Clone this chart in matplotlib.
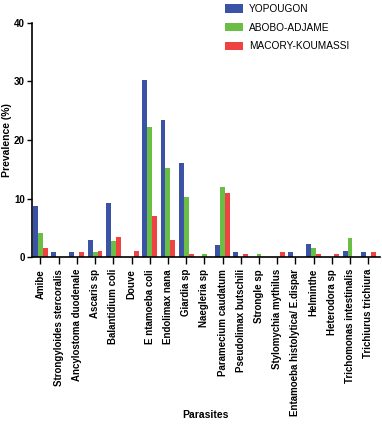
import matplotlib.pyplot as plt
import numpy as np

plt.rcParams['font.family'] = ['Liberation Sans', 'DejaVu Sans']

parasites = ['Amibe', 'Strongyloides stercoralis', 'Ancylostoma duodenale', 'Ascaris sp',
             'Balantidium coli', 'Douve', 'E ntamoeba coli', 'Endolimax nana', 'Giardia sp',
             'Naegleria sp', 'Paramecium caudatum', 'Pseudolimax butschili', 'Strongle sp',
             'Stylomychia mythilus', 'Entamoeba histolytica/ E.dispar', 'Helminthe',
             'Heterodora sp', 'Trichomonas intestinalis', 'Trichiurus trichiura']

yopougon = [8.7, 0.8, 0.8, 3.0, 9.3, 0, 30.2, 23.5, 16.0,
            0, 2.0, 0.8, 0, 0, 0.8, 2.3, 0, 1.1, 0.8]
abobo = [4.2, 0, 0, 0.8, 2.7, 0, 22.3, 15.3, 10.2,
         0.5, 11.9, 0, 0.5, 0, 0, 1.5, 0, 3.2, 0]
macory = [1.5, 0, 0.8, 1.1, 3.5, 1.1, 7.1, 3.0, 0.5,
          0, 10.9, 0.5, 0, 0.8, 0, 0.5, 0.5, 0, 0.8]

series = [('YOPOUGON', yopougon, '#3a53a4'),
          ('ABOBO-ADJAME', abobo, '#6abd45'),
          ('MACORY-KOUMASSI', macory, '#ef4343')]

fig = plt.figure(figsize=(3.82, 4.25), dpi=100)
ax = fig.add_axes([0.083, 0.395, 0.912, 0.551])

x = np.arange(len(parasites))
w = 0.27
for i, (name, vals, col) in enumerate(series):
    ax.bar(x + (i - 1) * w, vals, width=w, color=col, label=name)

ax.set_xlim(-0.48, len(parasites) - 1 + 0.65)
ax.set_ylim(0, 40)
ax.set_yticks([0, 10, 20, 30, 40])
ax.set_xticks(x)
ax.set_xticklabels(parasites, rotation=90, fontsize=7, fontweight='bold')
for lab in ax.get_yticklabels():
    lab.set_fontweight('bold')
    lab.set_fontsize(7)
ax.tick_params(axis='x', length=5, width=1)
ax.tick_params(axis='y', length=3.5, width=1, pad=1.5)
for s in ['top', 'right']:
    ax.spines[s].set_visible(False)
for s in ['left', 'bottom']:
    ax.spines[s].set_linewidth(1.2)

ax.set_ylabel('Prevalence (%)', fontsize=7.5, fontweight='bold', labelpad=1)
fig.text(0.537, 0.012, 'Parasites', fontsize=7.5, fontweight='bold', ha='center', va='bottom')

fig.legend(loc='upper left', bbox_to_anchor=(0.565, 1.012), frameon=False, fontsize=7.3,
           handlelength=1.75, handleheight=0.85, labelspacing=0.85, handletextpad=0.6)

plt.savefig('out.png', dpi=100)
